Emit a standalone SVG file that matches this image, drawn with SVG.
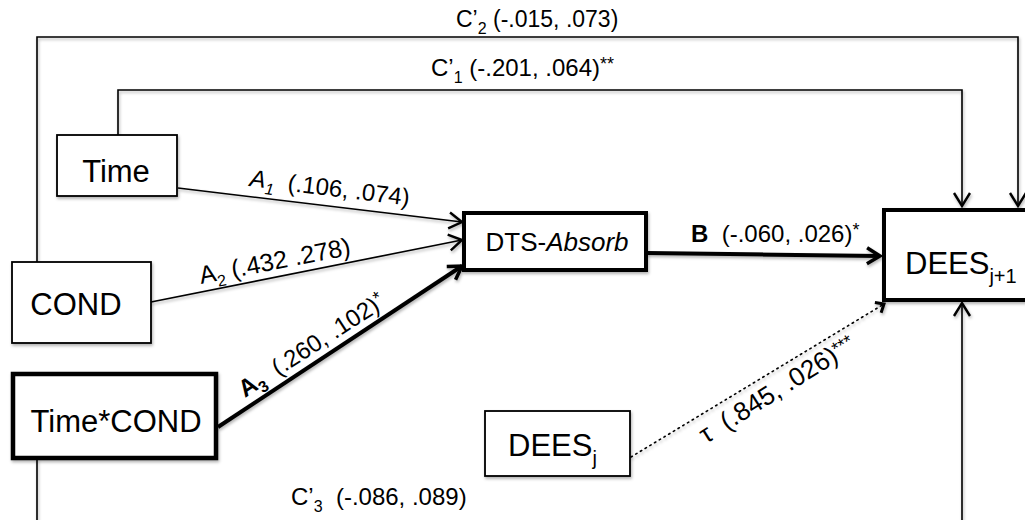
<svg xmlns="http://www.w3.org/2000/svg" width="1025" height="520" viewBox="0 0 1025 520">
  <defs>
    <style>
      text { font-family: "Liberation Sans", Arial, sans-serif; fill: #000; }
      .node { font-size: 31px; }
      .lbl { font-size: 24px; }
      .box { fill: #fff; stroke: #000; stroke-width: 1.8; }
      .box-bold { fill: #fff; stroke: #000; stroke-width: 4; }
      .thin { fill: none; stroke: #000; stroke-width: 1.6; }
      .thick { fill: none; stroke: #000; stroke-width: 4; }
      .dotted { fill: none; stroke: #000; stroke-width: 1.6; stroke-dasharray: 1.5 4; stroke-linecap: round; }
      .sub { font-size: 16px; }
      .sup { font-size: 18px; }
    </style>
    <filter id="shadow" x="-10%" y="-10%" width="130%" height="140%">
      <feDropShadow dx="1" dy="2" stdDeviation="1.5" flood-color="#000" flood-opacity="0.3"/>
    </filter>
    <marker id="arrow" viewBox="-16 -10 18 20" markerWidth="18" markerHeight="20" refX="0" refY="0" orient="auto" markerUnits="userSpaceOnUse" overflow="visible">
      <path d="M-13,-8 L0,0 L-13,8" fill="none" stroke="#000" stroke-width="2.4" stroke-linejoin="miter"/>
    </marker>
    <marker id="arrow-bold" viewBox="-16 -10 18 20" markerWidth="18" markerHeight="20" refX="0" refY="0" orient="auto" markerUnits="userSpaceOnUse" overflow="visible">
      <path d="M-13,-8 L0,0 L-13,8" fill="none" stroke="#000" stroke-width="3.5" stroke-linejoin="miter"/>
    </marker>
    <marker id="arrow-small" viewBox="-10 -8 12 16" markerWidth="12" markerHeight="16" refX="0" refY="0" orient="auto" markerUnits="userSpaceOnUse" overflow="visible">
      <path d="M-7,-6 L0,0 L-7,6" fill="none" stroke="#000" stroke-width="3"/>
    </marker>
  </defs>

  <!-- connectors -->
  <g id="connectors" filter="url(#shadow)">
    <!-- C'2: COND to DEES j+1 over the top -->
    <path class="thin" d="M37,262 V37 H1018 V206" marker-end="url(#arrow)"/>
    <!-- C'1: Time to DEES j+1 -->
    <path class="thin" d="M118,135 V90 H962 V206" marker-end="url(#arrow)"/>
    <!-- C'3: Time*COND to DEES j+1 along the bottom -->
    <path class="thin" d="M37,459 V540 H962 V303" marker-end="url(#arrow)"/>
    <!-- A paths into the mediator -->
    <path class="thin" d="M178,188 L462,222" marker-end="url(#arrow)"/>
    <path class="thin" d="M151,302 L462,240" marker-end="url(#arrow)"/>
    <path class="thick" d="M218,427 L462,266" marker-end="url(#arrow-bold)"/>
    <!-- B path -->
    <path class="thick" d="M647,253 L880,256" marker-end="url(#arrow-bold)"/>
    <!-- autoregressive path -->
    <path class="dotted" d="M631,457 L884,304" marker-end="url(#arrow-small)"/>
  </g>

  <!-- path labels -->
  <g id="labels">
    <text class="lbl" x="456" y="27" style="font-size:23px">C’<tspan class="sub" dy="7">2</tspan><tspan dy="-7"> (-.015, .073)</tspan></text>
    <text class="lbl" x="431" y="76">C’<tspan class="sub" dy="7">1</tspan><tspan dy="-7"> (-.201, .064)</tspan><tspan class="sup" dy="-6">**</tspan></text>
    <text class="lbl" x="291" y="505">C’<tspan class="sub" dy="7">3</tspan><tspan dy="-7">&#160; (-.086, .089)</tspan></text>
    <text class="lbl" transform="translate(249,186) rotate(7)"><tspan font-style="italic">A</tspan><tspan class="sub" font-style="italic" dy="6">1</tspan><tspan dy="-6">&#160; (.106, .074)</tspan></text>
    <text class="lbl" transform="translate(201,284) rotate(-11)" style="font-size:25px">A<tspan class="sub" dy="6">2</tspan><tspan dy="-6"> (.432 .278)</tspan></text>
    <text class="lbl" transform="translate(245,398) rotate(-33)"><tspan font-weight="bold">A</tspan><tspan class="sub" font-weight="bold" dy="6">3</tspan><tspan dy="-6">&#160; (.260, .102)</tspan><tspan class="sup" dy="-6">*</tspan></text>
    <text class="lbl" x="691" y="242"><tspan font-weight="bold">B</tspan>&#160; (-.060, .026)<tspan class="sup" dy="-6">*</tspan></text>
    <text class="lbl" transform="translate(706,444) rotate(-32)" style="font-size:26px">τ&#160; (.845, .026)<tspan class="sup" dy="-6">***</tspan></text>
  </g>

  <!-- nodes -->
  <g id="node-time">
    <rect class="box" x="57" y="135" width="120" height="61" filter="url(#shadow)"/>
    <text class="node" x="116" y="182" text-anchor="middle">Time</text>
  </g>
  <g id="node-cond">
    <rect class="box" x="12" y="262" width="139" height="81" filter="url(#shadow)"/>
    <text class="node" x="76" y="315" text-anchor="middle">COND</text>
  </g>
  <g id="node-time-cond">
    <rect class="box-bold" x="13" y="374" width="203" height="84" style="stroke-width:4.5" filter="url(#shadow)"/>
    <text class="node" x="116" y="432" text-anchor="middle">Time*COND</text>
  </g>
  <g id="node-dts-absorb">
    <rect class="box-bold" x="464" y="213" width="182" height="57" filter="url(#shadow)"/>
    <text class="node" x="557" y="251" text-anchor="middle" style="font-size:26px">DTS-<tspan font-style="italic">Absorb</tspan></text>
  </g>
  <g id="node-dees-next">
    <rect class="box-bold" x="884" y="210" width="160" height="90" filter="url(#shadow)"/>
    <text class="node" x="905" y="274">DEES<tspan style="font-size:20px" dy="9">j+1</tspan></text>
  </g>
  <g id="node-dees">
    <rect class="box" x="485" y="411" width="145" height="65" filter="url(#shadow)"/>
    <text class="node" x="508" y="456">DEES<tspan style="font-size:20px" dy="9">j</tspan></text>
  </g>
</svg>
